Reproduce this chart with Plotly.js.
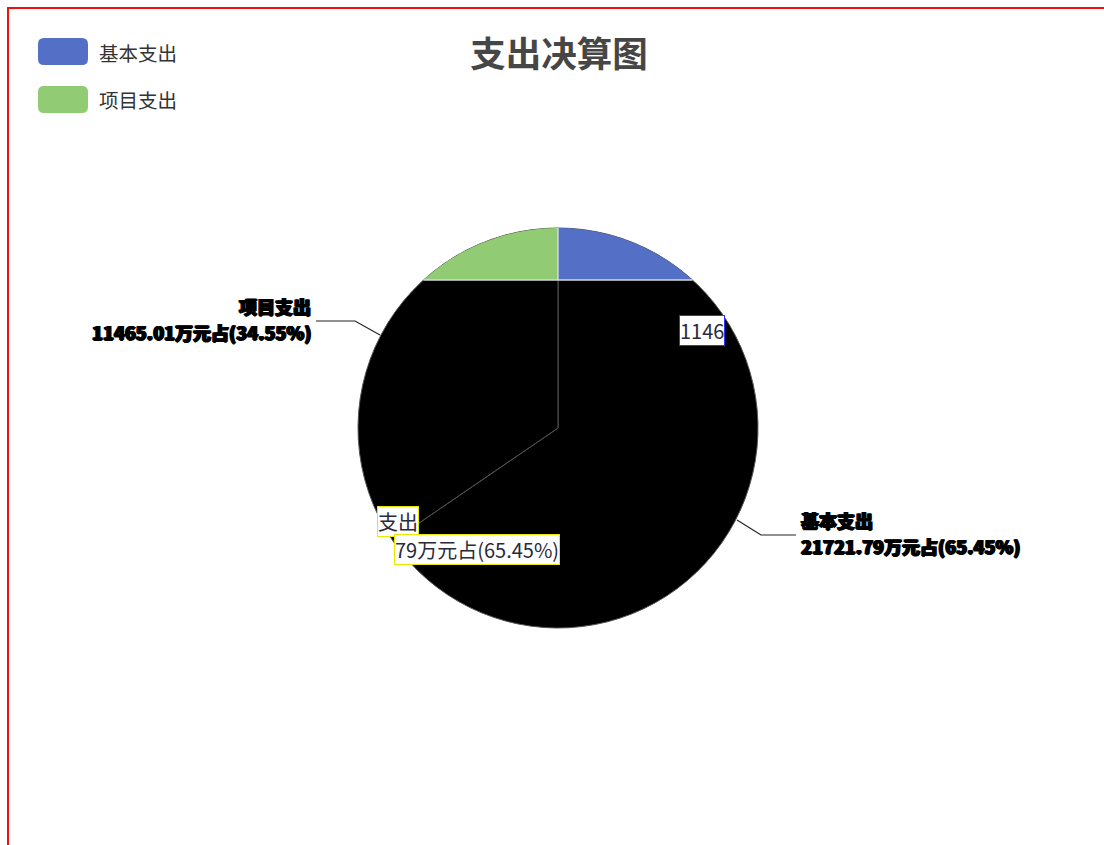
<!DOCTYPE html>
<html>
<head>
<meta charset="utf-8">
<script src="https://cdn.plot.ly/plotly-3.0.1.min.js"></script>
<style>
html,body{margin:0;padding:0;background:#fff;overflow:hidden;width:1104px;height:845px;}
#frame{position:absolute;left:7px;top:7px;width:1300px;height:1000px;border:2px solid #f01010;box-sizing:border-box;pointer-events:none;z-index:2;}
#chart{position:absolute;left:0;top:0;width:1104px;height:845px;z-index:1;}
</style>
</head>
<body>
<div id="chart"></div>
<div id="frame"></div>
<script>
// ---- data ----
const categories = ['基本支出', '项目支出'];
const values = [21721.79, 11465.01];
const seriesColors = ['#5470c6', '#91cc75'];
const chartTitle = '支出决算图';
const unitText = '万元占';

// ---- helpers (pixel -> paper) ----
const W = 1104, H = 845;
const X = px => px / W;
const Y = py => 1 - py / H;
const total = values.reduce((a, b) => a + b, 0);
const pct = values.map(v => (v / total * 100).toFixed(2) + '%');
const valueText = values.map(v => v.toFixed(2));

const FAM = '"Noto Sans CJK SC", "Noto Sans", sans-serif';

// pie geometry
const cx = 558, cy = 428, R = 200, chordY = 280;

function path(pts, close) {
  return pts.map((p, i) => (i ? 'L' : 'M') + X(p[0]).toFixed(5) + ',' + Y(p[1]).toFixed(5)).join(' ') + (close ? ' Z' : '');
}
function capPts(side) {
  const t0 = Math.asin((cy - chordY) / R);
  const pts = [[cx, chordY]];
  const n = 40;
  for (let i = 0; i <= n; i++) {
    const t = t0 + (Math.PI / 2 - t0) * i / n;
    pts.push([cx + side * R * Math.cos(t), cy - R * Math.sin(t)]);
  }
  return pts;
}
function roundRect(x0, y0, x1, y1, r) {
  const f = (px, py) => X(px).toFixed(5) + ',' + Y(py).toFixed(5);
  return 'M' + f(x0 + r, y0) + ' L' + f(x1 - r, y0) + ' Q' + f(x1, y0) + ' ' + f(x1, y0 + r) +
    ' L' + f(x1, y1 - r) + ' Q' + f(x1, y1) + ' ' + f(x1 - r, y1) +
    ' L' + f(x0 + r, y1) + ' Q' + f(x0, y1) + ' ' + f(x0, y1 - r) +
    ' L' + f(x0, y0 + r) + ' Q' + f(x0, y0) + ' ' + f(x0 + r, y0) + ' Z';
}

const shapes = [];
// top cap of the pie (right = first slice colour, left = second slice colour)
shapes.push({type: 'path', xref: 'paper', yref: 'paper', path: path(capPts(1), true), fillcolor: seriesColors[0], line: {width: 0}, layer: 'above'});
shapes.push({type: 'path', xref: 'paper', yref: 'paper', path: path(capPts(-1), true), fillcolor: seriesColors[1], line: {width: 0}, layer: 'above'});
const half = Math.sqrt(R * R - (cy - chordY) * (cy - chordY));
shapes.push({type: 'line', xref: 'paper', yref: 'paper', x0: X(cx - half), x1: X(cx + half), y0: Y(chordY), y1: Y(chordY), line: {color: '#d8d8d8', width: 1.5}, layer: 'above'});
shapes.push({type: 'line', xref: 'paper', yref: 'paper', x0: X(cx), x1: X(cx), y0: Y(chordY), y1: Y(cy - R), line: {color: '#e8e8e8', width: 1.2}, layer: 'above'});

// leader lines
shapes.push({type: 'path', xref: 'paper', yref: 'paper', path: path([[380, 335], [355, 321], [316, 321]], false), line: {color: '#222', width: 1.2}, layer: 'above'});
shapes.push({type: 'path', xref: 'paper', yref: 'paper', path: path([[737, 520], [761, 535], [796, 535]], false), line: {color: '#222', width: 1.2}, layer: 'above'});

// legend swatches
categories.forEach((c, i) => {
  const y0 = 38 + i * 48;
  shapes.push({type: 'path', xref: 'paper', yref: 'paper', path: roundRect(38, y0, 88, y0 + 27, 6), fillcolor: seriesColors[i], line: {width: 0}});
});

const annotations = [];
// legend text
categories.forEach((c, i) => {
  annotations.push({xref: 'paper', yref: 'paper', x: X(97), y: Y(52 + i * 48), xanchor: 'left', yanchor: 'middle', showarrow: false,
    text: c, font: {family: FAM, size: 19.5, color: '#333'}});
});

const boldFont = {family: FAM, size: 18, color: '#000', weight: 900, shadow: '1px 0 0 #000, -1px 0 0 #000, 0 1px 0 #000'};
// outside labels
annotations.push({xref: 'paper', yref: 'paper', x: X(313), y: Y(306), xanchor: 'right', yanchor: 'middle', showarrow: false, text: categories[1], font: boldFont});
annotations.push({xref: 'paper', yref: 'paper', x: X(313), y: Y(332), xanchor: 'right', yanchor: 'middle', showarrow: false, text: valueText[1] + unitText + '(' + pct[1] + ')', font: boldFont});
annotations.push({xref: 'paper', yref: 'paper', x: X(799), y: Y(520), xanchor: 'left', yanchor: 'middle', showarrow: false, text: categories[0], font: boldFont});
annotations.push({xref: 'paper', yref: 'paper', x: X(799), y: Y(546), xanchor: 'left', yanchor: 'middle', showarrow: false, text: valueText[0] + unitText + '(' + pct[0] + ')', font: boldFont});

// inside (broken) labels
const boxFont = {family: FAM, size: 20, color: '#2a2a3a'};
annotations.push({xref: 'paper', yref: 'paper', x: X(679), y: Y(330), xanchor: 'left', yanchor: 'middle', showarrow: false,
  text: valueText[1].slice(0, 4), font: boxFont, bgcolor: '#fff', bordercolor: '#3030ff', borderwidth: 1, borderpad: 0});
annotations.push({xref: 'paper', yref: 'paper', x: X(377), y: Y(521), xanchor: 'left', yanchor: 'middle', showarrow: false,
  text: categories[0].slice(2), font: boxFont, bgcolor: '#fff', bordercolor: '#e8e800', borderwidth: 1, borderpad: 0});
annotations.push({xref: 'paper', yref: 'paper', x: X(394), y: Y(549), xanchor: 'left', yanchor: 'middle', showarrow: false,
  text: valueText[0].slice(-2) + unitText + '(' + pct[0] + ')', font: boxFont, bgcolor: '#fff', bordercolor: '#e8e800', borderwidth: 1, borderpad: 0});

const data = [{
  type: 'pie',
  labels: categories,
  values: values,
  sort: false,
  direction: 'clockwise',
  rotation: 0,
  marker: {colors: ['#000000', '#000000'], line: {color: '#555555', width: 1}},
  textinfo: 'none',
  showlegend: false,
  hoverinfo: 'label+value+percent',
  domain: {x: [X(cx - R), X(cx + R)], y: [Y(cy + R), Y(cy - R)]}
}];

const layout = {
  width: W, height: H,
  margin: {l: 0, r: 0, t: 0, b: 0},
  paper_bgcolor: 'rgba(0,0,0,0)',
  plot_bgcolor: 'rgba(0,0,0,0)',
  showlegend: false,
  title: {text: chartTitle, x: X(559), xanchor: 'center', y: Y(55), yanchor: 'middle',
    font: {family: FAM, size: 35.5, color: '#464646', weight: 'bold'}},
  shapes: shapes,
  annotations: annotations
};

Plotly.newPlot('chart', data, layout, {displayModeBar: false, staticPlot: true});
</script>
</body>
</html>
